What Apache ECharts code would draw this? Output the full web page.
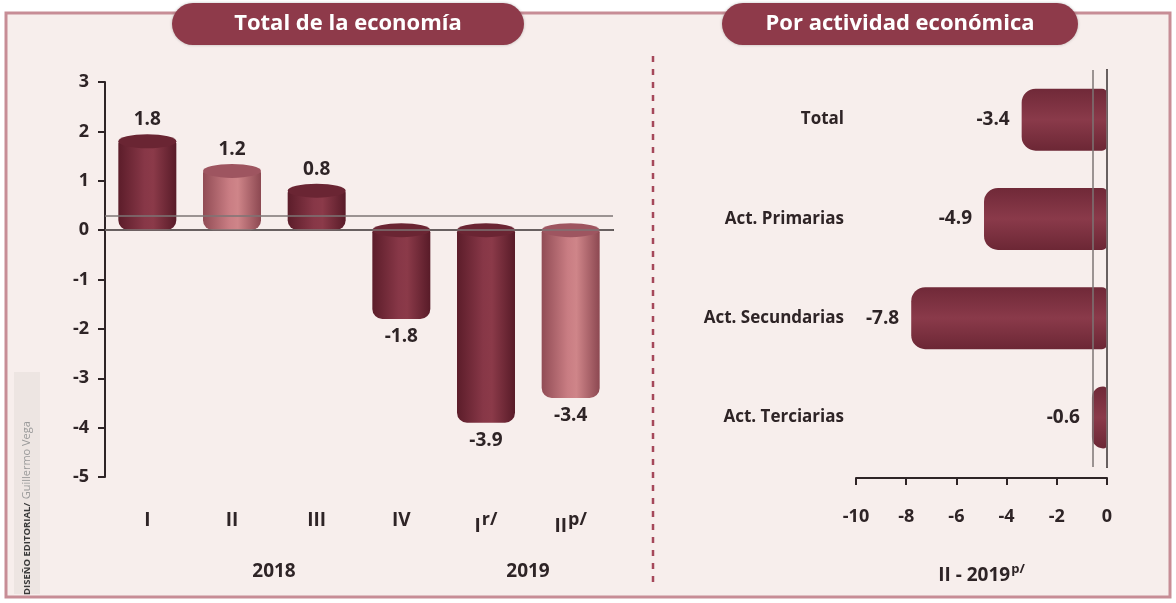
<!DOCTYPE html>
<html>
<head>
<meta charset="utf-8">
<script src="https://cdn.jsdelivr.net/npm/echarts@6/dist/echarts.min.js"></script>
<style>
  html, body { margin: 0; padding: 0; background: #fff; }
  #chart { width: 1176px; height: 603px; }
</style>
</head>
<body>
<div id="chart"></div>
<script>
// datos: PIB, variación anual (%)
var quarters = ['I', 'II', 'III', 'IV', 'I', 'II'];
var quarterNotes = ['', '', '', '', 'r/', 'p/'];
var totalGrowth = [1.8, 1.2, 0.8, -1.8, -3.9, -3.4];
var barTone = ['dark', 'light', 'dark', 'dark', 'dark', 'light'];
var years = ['2018', '2019'];

var activities = ['Total', 'Act. Primarias', 'Act. Secundarias', 'Act. Terciarias'];
var activityGrowth = [-3.4, -4.9, -7.8, -0.6];

var FONT = '"Open Sans", "Noto Sans", sans-serif';
var INK = '#2e2426';

var chart = echarts.init(document.getElementById('chart'));

function cylinder(tone) {
    var stops = tone === 'light'
        ? ['#914c55', '#c97d83', '#cf8589', '#8c4851']
        : ['#5c1d2a', '#873747', '#8b3a49', '#581b28'];
    return new echarts.graphic.LinearGradient(0, 0, 1, 0, [
        {offset: 0, color: stops[0]},
        {offset: 0.45, color: stops[1]},
        {offset: 0.6, color: stops[2]},
        {offset: 1, color: stops[3]}
    ]);
}

var leftBars = totalGrowth.map(function (v, i) {
    return {
        value: v,
        itemStyle: {color: cylinder(barTone[i]), borderRadius: [2, 2, 10, 10]},
        label: {position: v >= 0 ? 'top' : 'bottom', distance: v >= 0 ? 12 : 8}
    };
});

var leftCaps = totalGrowth.map(function (v, i) {
    return {
        value: v,
        symbolPosition: v >= 0 ? 'end' : 'start',
        itemStyle: {color: barTone[i] === 'light' ? '#9e5560' : '#6a2533'}
    };
});

var hBarGrad = new echarts.graphic.LinearGradient(0, 0, 0, 1, [
    {offset: 0, color: '#702938'},
    {offset: 0.5, color: '#8a3a4a'},
    {offset: 1, color: '#6c2735'}
]);

var option = {
    backgroundColor: '#ffffff',
    animation: false,
    textStyle: {fontFamily: FONT},
    graphic: [
        {
            type: 'rect', z: -10, silent: true,
            shape: {x: 6, y: 13, width: 1164, height: 584},
            style: {fill: '#f7eeec', stroke: '#c78d96', lineWidth: 3}
        },
        {
            type: 'rect', z: -9, silent: true,
            shape: {x: 14, y: 372, width: 26, height: 222},
            style: {fill: '#ede5e2'}
        },
        {
            type: 'line', silent: true,
            shape: {x1: 653, y1: 56, x2: 653, y2: 582},
            style: {stroke: '#a5475a', lineWidth: 2.5, lineDash: [6, 7]}
        },
        {
            type: 'group', left: 172, top: 3,
            children: [
                {type: 'rect', shape: {x: 0, y: 0, width: 352, height: 42, r: 21},
                    style: {fill: '#8e3a4a', shadowBlur: 3, shadowColor: 'rgba(0,0,0,0.25)'}},
                {type: 'text', x: 176, y: 21,
                    style: {text: 'Total de la economía', fill: '#ffffff', font: 'bold 22px ' + FONT,
                        align: 'center', verticalAlign: 'middle'}}
            ]
        },
        {
            type: 'group', left: 722, top: 3,
            children: [
                {type: 'rect', shape: {x: 0, y: 0, width: 356, height: 42, r: 21},
                    style: {fill: '#8e3a4a', shadowBlur: 3, shadowColor: 'rgba(0,0,0,0.25)'}},
                {type: 'text', x: 178, y: 21,
                    style: {text: 'Por actividad económica', fill: '#ffffff', font: 'bold 22px ' + FONT,
                        align: 'center', verticalAlign: 'middle'}}
            ]
        },
        {
            type: 'text', x: 274, y: 572,
            style: {text: years[0], fill: INK, font: 'bold 19px ' + FONT, align: 'center', verticalAlign: 'middle'}
        },
        {
            type: 'text', x: 528, y: 572,
            style: {text: years[1], fill: INK, font: 'bold 19px ' + FONT, align: 'center', verticalAlign: 'middle'}
        },
        {
            type: 'text', x: 27, y: 595, rotation: Math.PI / 2,
            style: {
                text: '{b|DISEÑO EDITORIAL/} {g|Guillermo Vega}',
                verticalAlign: 'middle', align: 'left',
                rich: {
                    b: {fontSize: 9.5, fontWeight: 'bold', fill: '#3a3a3a', fontFamily: FONT},
                    g: {fontSize: 11, fill: '#9a9a9a', fontFamily: FONT}
                }
            }
        }
    ],
    grid: [
        {left: 105, top: 82, width: 508, height: 395},
        {left: 856, top: 70, width: 251, height: 397}
    ],
    xAxis: [
        {
            gridIndex: 0,
            type: 'category',
            data: quarters,
            axisLine: {lineStyle: {color: INK, width: 2}},
            axisTick: {show: false},
            axisLabel: {
                margin: 34,
                formatter: function (val, idx) {
                    return quarterNotes[idx] ? '{q|' + val + '}{s|' + quarterNotes[idx] + '}' : '{q|' + val + '}';
                },
                rich: {
                    q: {fontSize: 19, fontWeight: 'bold', color: INK, fontFamily: FONT},
                    s: {fontSize: 18, fontWeight: 'bold', color: INK, fontFamily: FONT, padding: [0, 0, 14, 1]}
                }
            }
        },
        {
            gridIndex: 1,
            type: 'value',
            min: -10,
            max: 0,
            interval: 2,
            offset: 11,
            splitLine: {show: false},
            axisLine: {show: true, lineStyle: {color: INK, width: 2}},
            axisTick: {show: true, length: 7, lineStyle: {color: INK, width: 2}},
            axisLabel: {margin: 30, fontSize: 18, fontWeight: 'bold', color: INK},
            name: 'II - 2019{s|p/}',
            nameLocation: 'middle',
            nameGap: 85,
            nameTextStyle: {
                fontSize: 19, fontWeight: 'bold', color: INK,
                rich: {s: {fontSize: 13, fontWeight: 'bold', color: INK, padding: [0, 0, 12, 1]}}
            }
        }
    ],
    yAxis: [
        {
            gridIndex: 0,
            type: 'value',
            min: -5,
            max: 3,
            interval: 1,
            splitLine: {show: false},
            axisLine: {show: true, lineStyle: {color: INK, width: 2}},
            axisTick: {show: true, length: 7, lineStyle: {color: INK, width: 2}},
            axisLabel: {margin: 16, fontSize: 18, fontWeight: 'bold', color: INK}
        },
        {
            gridIndex: 1,
            type: 'category',
            inverse: true,
            data: activities,
            axisLine: {lineStyle: {color: INK, width: 2}},
            axisTick: {show: false},
            axisLabel: {margin: 12, fontSize: 17, fontWeight: 'bold', color: INK}
        }
    ],
    series: [
        {
            type: 'bar',
            xAxisIndex: 0,
            yAxisIndex: 0,
            barWidth: 58,
            barGap: '-100%',
            data: leftBars,
            label: {show: true, fontSize: 19, fontWeight: 'bold', color: INK, formatter: '{c}'},
            markLine: {
                silent: true,
                symbol: 'none',
                label: {show: false},
                lineStyle: {color: '#7d7474', width: 1.5, type: 'solid'},
                data: [{yAxis: 0}, {yAxis: 0.3}]
            }
        },
        {
            type: 'pictorialBar',
            xAxisIndex: 0,
            yAxisIndex: 0,
            barWidth: 58,
            barGap: '-100%',
            symbol: 'circle',
            symbolSize: [58, 14],
            symbolOffset: [0, '-50%'],
            z: 3,
            data: leftCaps
        },
        {
            type: 'bar',
            xAxisIndex: 1,
            yAxisIndex: 1,
            barWidth: 62,
            data: activityGrowth,
            itemStyle: {color: hBarGrad, borderRadius: [14, 5, 5, 14]},
            label: {show: true, position: 'left', distance: 12, fontSize: 19, fontWeight: 'bold', color: INK, formatter: '{c}'},
            markLine: {
                silent: true,
                symbol: 'none',
                label: {show: false},
                lineStyle: {color: '#7d7474', width: 1.5, type: 'solid'},
                data: [{xAxis: 0}, {xAxis: -0.55}]
            }
        }
    ]
};

chart.setOption(option);
</script>
</body>
</html>
